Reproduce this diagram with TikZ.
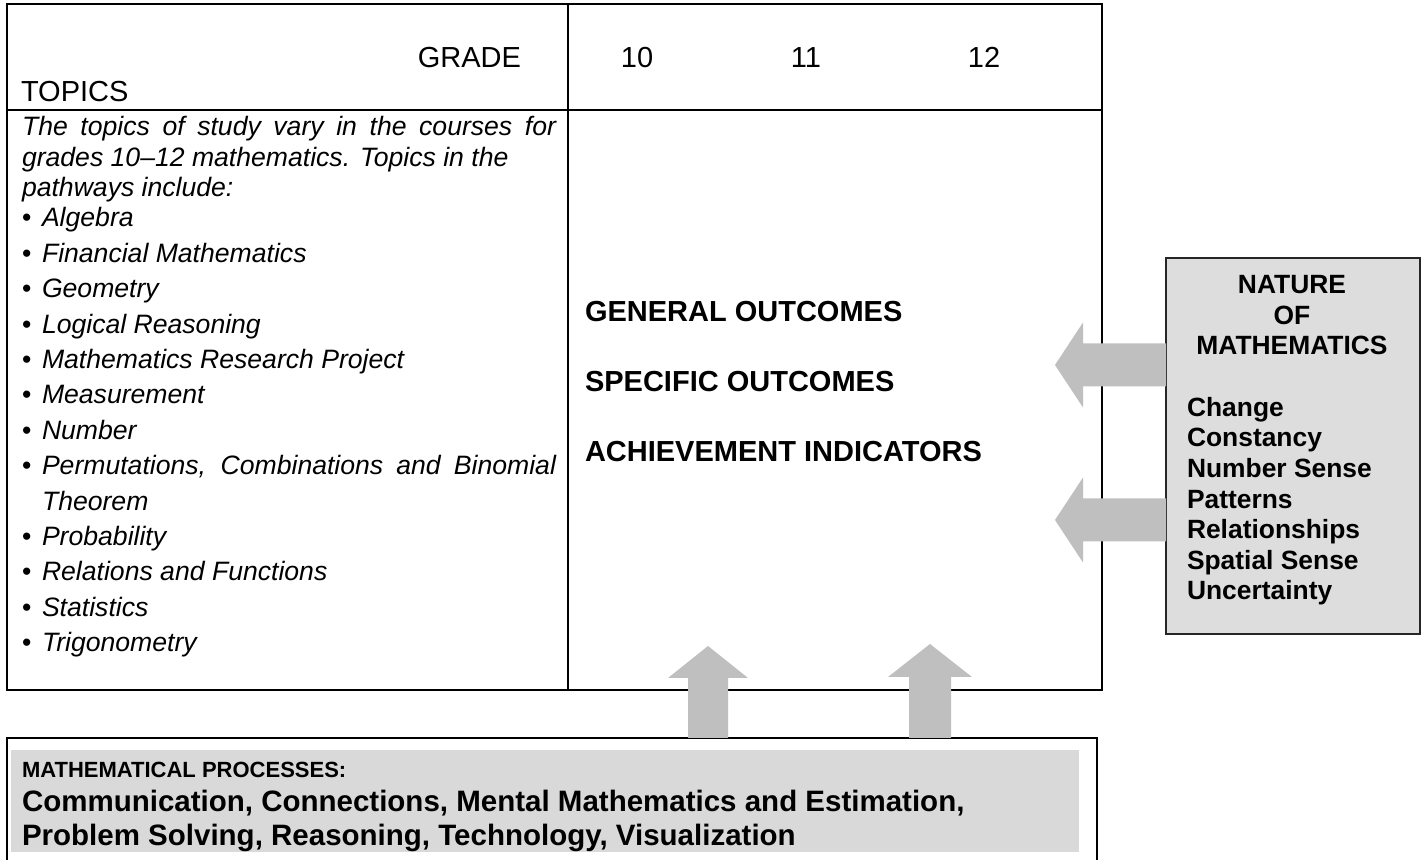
\documentclass[tikz,border=0pt]{standalone}
\usepackage{fontspec}
\setmainfont{Liberation Sans}
\usetikzlibrary{positioning,calc}

\definecolor{arrowgray}{HTML}{BFBFBF}
\definecolor{natgray}{HTML}{DDDDDD}
\definecolor{bandgray}{HTML}{D9D9D9}

% one bullet line of the topics list
\newcommand\topicitem[1]{\makebox[10pt][l]{\upshape\textbullet}\hangindent=10pt\hangafter=1 #1\par}

\begin{document}
\begin{tikzpicture}[x=0.5pt,y=-0.5pt,every node/.style={outer sep=0pt,inner sep=0pt},
		frame/.style={draw,line width=1.35pt},
		head/.style={font=\fontsize{14.5}{17}\selectfont},
		topic/.style={font=\fontsize{13.3}{17.7}\selectfont\itshape,text width=267pt,align=justify,anchor=base west},
		outcome/.style={font=\fontsize{14.5}{35}\selectfont\bfseries,align=left,anchor=base west},
		natbox/.style={draw=black!85,line width=0.75pt,fill=natgray},
		nattext/.style={font=\fontsize{13.2}{15.3}\selectfont\bfseries},
		blockarrow/.style={fill=arrowgray,draw=none},
		]
		\path[use as bounding box,fill=white] (0,0) rectangle (1426,860);

		% table
		\node[frame,anchor=north west,minimum width=547.5pt,minimum height=343pt] (tbl) at (7,4) {};
		\draw[line width=1.35pt] (tbl.north -| 568,0) -- (tbl.south -| 568,0);
		\draw[line width=1.35pt] (tbl.west |- 0,110) -- (tbl.east |- 0,110);

		\node[head,anchor=base east] (grade) at (521,68) {GRADE};
		\node[head,anchor=base west] (topics) at (21,102) {TOPICS};
		\node[head,anchor=base] (g10) at (637,68) {10};
		\node[head,anchor=base] (g11) at (806,68) {11};
		\node[head,anchor=base] (g12) at (984,68) {12};

		\node[topic,font=\fontsize{13.3}{15.15}\selectfont\itshape] (intro) at (22,136)
		{The topics of study vary in the courses for\linebreak grades 10--12 mathematics. Topics in the\newline pathways include:};
		\node[topic] (list) at (22,227) {\topicitem{Algebra}
			\topicitem{Financial Mathematics}
			\topicitem{Geometry}
			\topicitem{Logical Reasoning}
			\topicitem{Mathematics Research Project}
			\topicitem{Measurement}
			\topicitem{Number}
			\topicitem{Permutations, Combinations and Binomial\linebreak Theorem}
			\topicitem{Probability}
			\topicitem{Relations and Functions}
			\topicitem{Statistics}
			\topicitem{Trigonometry}};

		% last line sets the base
		\node[outcome] (outcomes) at (585,462) {GENERAL OUTCOMES\\SPECIFIC OUTCOMES\\ACHIEVEMENT INDICATORS};

		% nature of mathematics
		\node[natbox,anchor=north west,minimum width=127pt,minimum height=188pt] (nat) at (1166,258) {};
		\node[nattext,align=center,anchor=base] (nattitle) at (1292,355) {NATURE\\OF\\MATHEMATICS};
		\node[nattext,align=left,anchor=base west] (natlist) at (1187,600)
		{Change\\Constancy\\Number Sense\\Patterns\\Relationships\\Spatial Sense\\Uncertainty};

		% mathematical processes
		\node[draw,line width=1pt,anchor=north west,minimum width=545pt,minimum height=70pt] (proc) at (7,738) {};
		\fill[bandgray] (11,750) rectangle (1079,852);
		\node[font=\fontsize{14.75}{17}\selectfont\bfseries,align=left,anchor=base west] (proctext) at (22,846)
		{{\fontsize{11}{17}\selectfont MATHEMATICAL PROCESSES:}\\
			Communication, Connections, Mental Mathematics and Estimation,\\
			Problem Solving, Reasoning, Technology, Visualization};

		% block arrows
		\coordinate (tipN1) at (1055,365);
		\coordinate (tipN2) at (1055,520);
		\coordinate (tipP1) at (708,646);
		\coordinate (tipP2) at (930,644);

		\fill[blockarrow] (tipN1) -- ++(28,-42.5) -- ++(0,21) -- ($(nat.west |- tipN1)+(0,-21.5)$)
			-- ($(nat.west |- tipN1)+(0,21.5)$) -- ($(tipN1)+(28,21.5)$) -- ++(0,21) -- cycle;
		\fill[blockarrow] (tipN2) -- ++(28,-42.5) -- ++(0,21) -- ($(nat.west |- tipN2)+(0,-21.5)$)
			-- ($(nat.west |- tipN2)+(0,21.5)$) -- ($(tipN2)+(28,21.5)$) -- ++(0,21) -- cycle;
		\fill[blockarrow] (tipP1) -- ++(-40,32) -- ++(20,0) -- ($(proc.north -| tipP1)+(-20,0)$)
			-- ($(proc.north -| tipP1)+(20,0)$) -- ($(tipP1)+(20,32)$) -- ++(20,0) -- cycle;
		\fill[blockarrow] (tipP2) -- ++(-42,33) -- ++(21,0) -- ($(proc.north -| tipP2)+(-21,0)$)
			-- ($(proc.north -| tipP2)+(21,0)$) -- ($(tipP2)+(21,33)$) -- ++(21,0) -- cycle;
\end{tikzpicture}
\end{document}
